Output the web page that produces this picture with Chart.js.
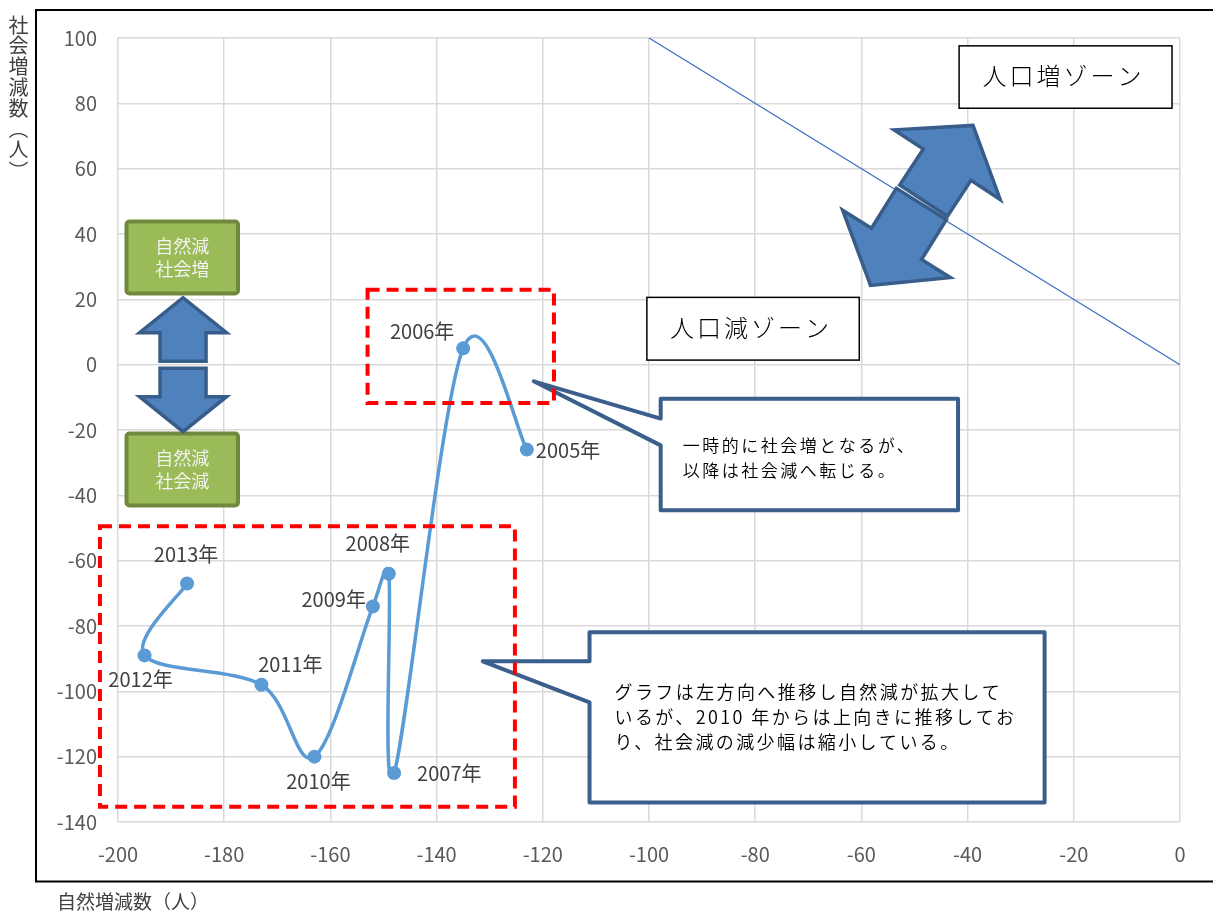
<!DOCTYPE html>
<html lang="ja">
<head>
<meta charset="utf-8">
<title>自然増減数と社会増減数の推移</title>
<script src="https://cdn.jsdelivr.net/npm/chart.js@4.4.1/dist/chart.umd.min.js"></script>
<style>
  html, body { margin: 0; padding: 0; background: #fff; }
  #wrap { position: relative; width: 1213px; height: 916px; }
</style>
</head>
<body>
<div id="wrap"><canvas id="chart" width="1213" height="916"></canvas></div>
<script>
// 年ごとの自然増減数・社会増減数（人）
const years = ['2005年', '2006年', '2007年', '2008年', '2009年', '2010年', '2011年', '2012年', '2013年'];
const naturalChange = [-123, -135, -148, -149, -152, -163, -173, -195, -187];
const socialChange = [-26, 5, -125, -64, -74, -120, -98, -89, -67];

// 人口増減の境界線（自然増減 + 社会増減 = 0）
const boundaryX = [-100, 0];
const boundaryY = [100, 0];

// 軸の範囲と目盛間隔
const xRange = [-200, 0];
const yRange = [-140, 100];
const tickStep = 20;

// 年ラベルの置き場所（点からのずらし量）
const labelPos = [
    { dx: 9, dy: 1, align: 'left' },
    { dx: -41, dy: -17, align: 'center' },
    { dx: 23, dy: 0, align: 'left' },
    { dx: -11, dy: -30, align: 'center' },
    { dx: -7, dy: -7, align: 'right' },
    { dx: 4, dy: 25, align: 'center' },
    { dx: 29, dy: -20, align: 'center' },
    { dx: -4, dy: 24, align: 'center' },
    { dx: -1, dy: -29, align: 'center' }
];

const FONT = "'Noto Sans CJK JP', 'Noto Sans', sans-serif";
Chart.defaults.font.family = FONT;

function withSpacing(ctx, spacing, fn) {
    const prev = ctx.letterSpacing;
    ctx.letterSpacing = spacing;
    fn();
    ctx.letterSpacing = prev || '0px';
}

// 矢印（中心から angle 方向へ）
function arrow(ctx, cx, cy, angle, start, len, headLen, headW, shaftW) {
    const ux = Math.cos(angle), uy = Math.sin(angle);
    const vx = -uy, vy = ux;
    const p = (a, b) => [cx + ux * a + vx * b, cy + uy * a + vy * b];
    const pts = [
        p(start, -shaftW / 2), p(len - headLen, -shaftW / 2), p(len - headLen, -headW / 2),
        p(len, 0),
        p(len - headLen, headW / 2), p(len - headLen, shaftW / 2), p(start, shaftW / 2)
    ];
    ctx.beginPath();
    pts.forEach((q, i) => i ? ctx.lineTo(q[0], q[1]) : ctx.moveTo(q[0], q[1]));
    ctx.closePath();
    ctx.fillStyle = '#4F81BD';
    ctx.fill();
    ctx.lineJoin = 'miter';
    ctx.strokeStyle = '#385D8A';
    ctx.lineWidth = 3.5;
    ctx.stroke();
}

// 折れ線の平滑化（Catmull-Rom 風、短い区間では制御点を縮める）
const smoothLine = {
    id: 'smoothLine',
    beforeDatasetDraw(chart, args) {
        if (args.index !== 0) return;
        const line = args.meta.dataset;
        if (!line) return;
        line.updateControlPoints(chart.chartArea, 'x');
        const pts = args.meta.data;
        const n = pts.length;
        pts.forEach((p, i) => {
            const prev = pts[Math.max(i - 1, 0)];
            const next = pts[Math.min(i + 1, n - 1)];
            const vx = (next.x - prev.x) / 6, vy = (next.y - prev.y) / 6;
            const len = Math.hypot(vx, vy) || 1;
            const dPrev = Math.hypot(p.x - prev.x, p.y - prev.y);
            const dNext = Math.hypot(next.x - p.x, next.y - p.y);
            const kPrev = Math.min(1, 0.5 * dPrev / len);
            const kNext = Math.min(1, 0.5 * dNext / len);
            p.cp1x = p.x - vx * kPrev;
            p.cp1y = p.y - vy * kPrev;
            p.cp2x = p.x + vx * kNext;
            p.cp2y = p.y + vy * kNext;
        });
        line._path = undefined;
    }
};

const annotations = {
    id: 'annotations',
    afterDatasetsDraw(chart) {
        const ctx = chart.ctx;
        const sx = chart.scales.x, sy = chart.scales.y;
        const X = v => sx.getPixelForValue(v);
        const Y = v => sy.getPixelForValue(v);
        ctx.save();

        // 年ラベル
        const meta = chart.getDatasetMeta(0);
        ctx.font = '20px ' + FONT;
        ctx.fillStyle = '#404040';
        ctx.textBaseline = 'middle';
        meta.data.forEach((pt, i) => {
            const lp = labelPos[i];
            ctx.textAlign = lp.align;
            ctx.fillText(years[i], pt.x + lp.dx, pt.y + lp.dy);
        });

        // 人口増・人口減ゾーン
        const zone = (x1, y1, x2, y2, text) => {
            const l = X(x1), t = Y(y1), r = X(x2), b = Y(y2);
            ctx.fillStyle = '#fff';
            ctx.fillRect(l, t, r - l, b - t);
            ctx.strokeStyle = '#000';
            ctx.lineWidth = 1.5;
            ctx.strokeRect(l, t, r - l, b - t);
            ctx.fillStyle = '#000';
            ctx.font = '300 24px ' + FONT;
            ctx.textAlign = 'center';
            ctx.textBaseline = 'middle';
            withSpacing(ctx, '3px', () => ctx.fillText(text, (l + r) / 2 - 2, (t + b) / 2 - 1));
        };
        zone(-41.6, 97.6, -1.5, 78.5, '人口増ゾーン');
        zone(-100.4, 20.6, -60.4, 1.4, '人口減ゾーン');

        // 斜めの両矢印
        const dcx = X(-48.5), dcy = Y(49.7);
        arrow(ctx, dcx, dcy, -56.7 * Math.PI / 180, 2, 92, 47, 127, 57);
        arrow(ctx, dcx, dcy, 122.0 * Math.PI / 180, 2, 98, 49, 127, 59);

        // 自然減 社会増／社会減 のボックスと上下矢印
        const greenBox = (x1, y1, x2, y2, lines) => {
            const l = X(x1), t = Y(y1), r = X(x2), b = Y(y2);
            ctx.beginPath();
            ctx.roundRect(l, t, r - l, b - t, 3);
            ctx.fillStyle = '#9BBB59';
            ctx.fill();
            ctx.strokeStyle = '#71893F';
            ctx.lineWidth = 4;
            ctx.stroke();
            ctx.fillStyle = '#F6F6F6';
            ctx.font = '350 18px ' + FONT;
            ctx.textAlign = 'center';
            ctx.textBaseline = 'middle';
            const cy = (t + b) / 2;
            ctx.fillText(lines[0], (l + r) / 2, cy - 11.5);
            ctx.fillText(lines[1], (l + r) / 2, cy + 11.5);
        };
        greenBox(-198.4, 43.8, -177.4, 21.8, ['自然減', '社会増']);
        greenBox(-198.4, -21.1, -177.4, -43.1, ['自然減', '社会減']);
        const vcx = X(-187.75), vcy = Y(0);
        arrow(ctx, vcx, vcy, -Math.PI / 2, 3.5, 67, 35, 87, 46);
        arrow(ctx, vcx, vcy, Math.PI / 2, 3.5, 67, 35, 87, 46);

        // 吹き出し
        const callout = (x1, y1, x2, y2, tip, baseY1, baseY2, lines, font, spacing, tx, ty, lh) => {
            const l = X(x1), t = Y(y1), r = X(x2), b = Y(y2);
            ctx.beginPath();
            ctx.moveTo(l, t);
            ctx.lineTo(r, t);
            ctx.lineTo(r, b);
            ctx.lineTo(l, b);
            ctx.lineTo(l, Y(baseY2));
            ctx.lineTo(X(tip[0]), Y(tip[1]));
            ctx.lineTo(l, Y(baseY1));
            ctx.closePath();
            ctx.fillStyle = '#fff';
            ctx.fill();
            ctx.lineJoin = 'round';
            ctx.strokeStyle = '#3B5E8C';
            ctx.lineWidth = 4;
            ctx.stroke();
            ctx.fillStyle = '#000';
            ctx.font = font;
            ctx.textAlign = 'left';
            ctx.textBaseline = 'middle';
            withSpacing(ctx, spacing, () => {
                lines.forEach((s, i) => ctx.fillText(s, l + tx, t + ty + i * lh));
            });
        };
        callout(-97.8, -10.4, -41.8, -44.6, [-121.7, -5.1], -16.5, -24.7,
            ['一時的に社会増となるが、', '以降は社会減へ転じる。'],
            '350 17px ' + FONT, '2.5px', 22, 47, 25);
        callout(-111.2, -81.9, -25.5, -134, [-131.3, -90.8], -90.8, -103.4,
            ['グラフは左方向へ推移し自然減が拡大して', 'いるが、2010 年からは上向きに推移してお', 'り、社会減の減少幅は縮小している。'],
            '350 18px ' + FONT, '2.4px', 25, 60, 25);

        // 赤い破線の枠
        ctx.setLineDash([12, 7]);
        ctx.strokeStyle = '#FF0000';
        ctx.lineWidth = 4;
        ctx.lineJoin = 'miter';
        const redBox = (x1, y1, x2, y2) => {
            ctx.strokeRect(X(x1), Y(y1), X(x2) - X(x1), Y(y2) - Y(y1));
        };
        redBox(-153, 22.9, -117.9, -11.7);
        redBox(-203.4, -49.5, -125.25, -135.3);
        ctx.setLineDash([]);

        ctx.restore();
    },
    afterDraw(chart) {
        const ctx = chart.ctx;
        ctx.save();
        // 外枠
        ctx.strokeStyle = '#000';
        ctx.lineWidth = 2;
        ctx.strokeRect(36, 10, 1200, 871.5);

        // 縦軸タイトル（縦書き）
        ctx.fillStyle = '#404040';
        ctx.font = '20px ' + FONT;
        ctx.textAlign = 'center';
        ctx.textBaseline = 'middle';
        Array.from('社会増減数（人）').forEach((ch, i) => {
            const y = 25 + i * 20.8;
            if (ch === '（' || ch === '）') {
                ctx.save();
                ctx.translate(18.5, y);
                ctx.rotate(Math.PI / 2);
                ctx.fillText(ch, 0, 0);
                ctx.restore();
            } else {
                ctx.fillText(ch, 18.5, y);
            }
        });

        // 横軸タイトル
        ctx.font = '19px ' + FONT;
        ctx.textAlign = 'left';
        ctx.fillText('自然増減数（人）', 57, 902);
        ctx.restore();
    }
};

const scatterPoints = naturalChange.map((x, i) => ({ x: x, y: socialChange[i] }));
const boundaryPoints = boundaryX.map((x, i) => ({ x: x, y: boundaryY[i] }));

new Chart(document.getElementById('chart'), {
    type: 'scatter',
    data: {
        datasets: [
            {
                label: '社会増減数',
                data: scatterPoints,
                showLine: true,
                borderColor: '#5B9BD5',
                backgroundColor: '#5B9BD5',
                borderWidth: 3.5,
                pointRadius: 7,
                pointBorderWidth: 0,
                tension: 0.4
            },
            {
                label: '境界',
                data: boundaryPoints,
                showLine: true,
                borderColor: '#4472C4',
                borderWidth: 1.3,
                pointRadius: 0
            }
        ]
    },
    options: {
        responsive: false,
        animation: false,
        layout: { padding: { left: 0, top: 38, right: 33, bottom: 30 } },
        plugins: {
            legend: { display: false },
            tooltip: { enabled: false }
        },
        scales: {
            x: {
                type: 'linear',
                min: xRange[0],
                max: xRange[1],
                ticks: { stepSize: tickStep, color: '#595959', font: { size: 20 }, padding: 20 },
                grid: { color: '#D9D9D9', lineWidth: 1.5, drawTicks: false },
                border: { display: false },
                afterFit: s => { s.height = 64; }
            },
            y: {
                type: 'linear',
                min: yRange[0],
                max: yRange[1],
                ticks: { stepSize: tickStep, color: '#595959', font: { size: 20 }, padding: 21 },
                grid: { color: '#D9D9D9', lineWidth: 1.5, drawTicks: false },
                border: { display: false },
                afterFit: s => { s.width = 118; }
            }
        }
    },
    plugins: [smoothLine, annotations]
});
</script>
</body>
</html>
